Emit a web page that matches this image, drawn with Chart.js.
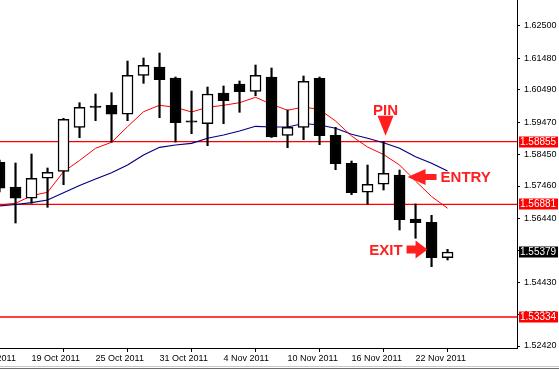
<!DOCTYPE html>
<html>
<head>
<meta charset="utf-8">
<script src="https://cdn.jsdelivr.net/npm/chart.js@4.4.0/dist/chart.umd.min.js"></script>
<style>
  html, body { margin: 0; padding: 0; background: #fff; }
  canvas { display: block; }
</style>
</head>
<body>
<canvas id="chart" width="559" height="370"></canvas>
<script>
// daily bars, 17 Oct 2011 .. 24 Nov 2011 (bar index 0 = 17 Oct)
const opens  = [1.58207, 1.57428, 1.57073, 1.57703, 1.57923, 1.59309, 1.59933, 1.60002, 1.59719, 1.60947,
                1.61208, 1.60862, 1.59467, 1.59422, 1.60389, 1.60673, 1.60443, 1.60893, 1.59057, 1.59309,
                1.60853, 1.59057, 1.58175, 1.57262, 1.57514, 1.57806, 1.56420, 1.56317, 1.55201];
const highs  = [1.58279, 1.58184, 1.58468, 1.58027, 1.59593, 1.60084, 1.60358, 1.60399, 1.61397, 1.61492,
                1.61649, 1.60893, 1.60452, 1.60578, 1.60610, 1.60767, 1.61271, 1.61177, 1.59854, 1.60925,
                1.60893, 1.59309, 1.58247, 1.58121, 1.58855, 1.57964, 1.56893, 1.56537, 1.55466];
const lows   = [1.57271, 1.56294, 1.56915, 1.56789, 1.57501, 1.58981, 1.59517, 1.58837, 1.59517, 1.60695,
                1.59611, 1.58846, 1.59107, 1.58729, 1.59422, 1.59782, 1.60304, 1.58988, 1.58666, 1.58918,
                1.58761, 1.57973, 1.57186, 1.56893, 1.57334, 1.56074, 1.55813, 1.54918, 1.55129];
const closes = [1.57388, 1.57073, 1.57703, 1.57892, 1.59561, 1.59939, 1.59964, 1.59719, 1.60947, 1.61262,
                1.60808, 1.59454, 1.59470, 1.60358, 1.60147, 1.60430, 1.60947, 1.59003, 1.59309, 1.60758,
                1.59044, 1.58162, 1.57249, 1.57514, 1.57860, 1.56398, 1.56304, 1.55201, 1.55379];

// moving averages
const maFast = [1.56861, 1.56915, 1.57154, 1.57262, 1.57910, 1.58263, 1.58648, 1.58837, 1.59328, 1.59800,
                1.60002, 1.59939, 1.59791, 1.59939, 1.60002, 1.60084, 1.60254, 1.60034, 1.59845, 1.59948,
                1.59870, 1.59507, 1.59035, 1.58688, 1.58452, 1.58121, 1.57617, 1.57129, 1.56758];
const maSlow = [1.56830, 1.56877, 1.56934, 1.57019, 1.57249, 1.57476, 1.57680, 1.57879, 1.58121, 1.58436,
                1.58679, 1.58751, 1.58805, 1.58963, 1.59066, 1.59192, 1.59341, 1.59318, 1.59318, 1.59429,
                1.59381, 1.59278, 1.59089, 1.58963, 1.58824, 1.58648, 1.58383, 1.58175, 1.57932];

// horizontal levels and last price
const levels = [1.58855, 1.56881, 1.53334];
const lastPrice = 1.55379;

// axis ticks
const priceTicks = [1.62500, 1.61480, 1.60490, 1.59470, 1.58450, 1.57460, 1.56440, 1.55430, 1.54430, 1.53420, 1.52420];
const dateTickBars = [-2, 2, 6, 10, 14, 18, 22, 26];
const dateTickLabels = ['13 Oct 2011', '19 Oct 2011', '25 Oct 2011', '31 Oct 2011', '4 Nov 2011',
                        '10 Nov 2011', '16 Nov 2011', '22 Nov 2011'];

// annotations: bar index + price they point at
const notes = [
    { text: 'PIN',   bar: 24, price: 1.58855, dir: 'down' },
    { text: 'ENTRY', bar: 25, price: 1.57744, dir: 'left' },
    { text: 'EXIT',  bar: 27, price: 1.55460, dir: 'right' }
];

const bars = opens.map((o, i) => i);
const RED = '#ff0000';
const NOTE_RED = '#ff1f1f';
const FONT = '"Liberation Sans", Arial, sans-serif';

const bodyData = bars.map(i => ({ x: i, y: [opens[i], closes[i]] }));
const wickData = bars.map(i => ({ x: i, y: [lows[i], highs[i]] }));
// doji bodies (open ~ close) show as a plain black dash
const bodyColors = bars.map(i => {
    if (Math.abs(closes[i] - opens[i]) < 0.0004) return '#000000';
    return closes[i] > opens[i] ? '#ffffff' : '#000000';
});

const xMin = 0.03, xMax = 32.34;

const levelSets = levels.map(lv => ({
    type: 'line',
    data: [{ x: xMin, y: lv }, { x: xMax, y: lv }],
    borderColor: RED,
    borderWidth: 1.3,
    pointRadius: 0,
    order: 3
}));

// arrows, texts and right-side price boxes
const overlay = {
    id: 'overlay',
    afterDatasetsDraw(chart) {
        const ctx = chart.ctx;
        const xs = chart.scales.x, ys = chart.scales.y;
        ctx.save();
        ctx.fillStyle = NOTE_RED;
        ctx.font = 'bold 15px ' + FONT;
        notes.forEach(n => {
            const px = xs.getPixelForValue(n.bar);
            const py = ys.getPixelForValue(n.price);
            ctx.beginPath();
            if (n.dir === 'down') {
                const tx = px + 2, ty = py - 6;
                ctx.moveTo(tx, ty);
                ctx.lineTo(tx - 8, ty - 20);
                ctx.lineTo(tx + 8, ty - 20);
                ctx.closePath();
                ctx.fill();
                ctx.textAlign = 'center';
                ctx.textBaseline = 'alphabetic';
                ctx.fillText(n.text, tx, ty - 21);
            } else if (n.dir === 'left') {
                const tx = px + 8, ty = py;
                ctx.moveTo(tx, ty);
                ctx.lineTo(tx + 18, ty - 8);
                ctx.lineTo(tx + 18, ty - 3);
                ctx.lineTo(tx + 29, ty - 3);
                ctx.lineTo(tx + 29, ty + 3);
                ctx.lineTo(tx + 18, ty + 3);
                ctx.lineTo(tx + 18, ty + 8);
                ctx.closePath();
                ctx.fill();
                ctx.textAlign = 'left';
                ctx.textBaseline = 'middle';
                ctx.fillText(n.text, tx + 33, ty + 1);
            } else {
                const tx = px - 4, ty = py;
                ctx.moveTo(tx, ty);
                ctx.lineTo(tx - 12, ty - 9);
                ctx.lineTo(tx - 12, ty - 4);
                ctx.lineTo(tx - 21, ty - 4);
                ctx.lineTo(tx - 21, ty + 4);
                ctx.lineTo(tx - 12, ty + 4);
                ctx.lineTo(tx - 12, ty + 9);
                ctx.closePath();
                ctx.fill();
                ctx.textAlign = 'right';
                ctx.textBaseline = 'middle';
                ctx.fillText(n.text, tx - 25, ty + 1);
            }
        });
        ctx.restore();
    },
    afterDraw(chart) {
        const ctx = chart.ctx;
        const ys = chart.scales.y;
        const left = chart.chartArea.right + 2;
        ctx.save();
        ctx.font = '10px ' + FONT;
        ctx.textAlign = 'left';
        ctx.textBaseline = 'middle';
        const box = (v, bg) => {
            const py = Math.round(ys.getPixelForValue(v));
            ctx.fillStyle = bg;
            ctx.fillRect(left, py - 5.5, chart.width - left - 1, 11);
            ctx.fillStyle = '#ffffff';
            ctx.fillText(v.toFixed(5), left + 1, py + 0.5);
        };
        levels.forEach(v => box(v, RED));
        box(lastPrice, '#000000');
        // window strip at the bottom
        ctx.fillStyle = '#c8c8c8';
        ctx.fillRect(0, 366, chart.width, 1);
        ctx.fillStyle = '#707070';
        ctx.fillRect(0, 368, chart.width, 1);
        ctx.restore();
    }
};

new Chart(document.getElementById('chart'), {
    type: 'bar',
    data: {
        datasets: [
            {
                data: bodyData,
                backgroundColor: bodyColors,
                borderColor: '#000000',
                borderWidth: 1.5,
                borderSkipped: false,
                barThickness: 11,
                minBarLength: 1.5,
                grouped: false,
                order: 0
            },
            {
                data: wickData,
                backgroundColor: '#000000',
                borderWidth: 0,
                barThickness: 1.5,
                grouped: false,
                order: 1
            },
            {
                type: 'line',
                data: bars.map(i => ({ x: i, y: maFast[i] })),
                borderColor: RED,
                borderWidth: 1,
                pointRadius: 0,
                order: 2
            },
            {
                type: 'line',
                data: bars.map(i => ({ x: i, y: maSlow[i] })),
                borderColor: '#000080',
                borderWidth: 1.2,
                pointRadius: 0,
                order: 2
            },
            ...levelSets
        ]
    },
    options: {
        responsive: false,
        animation: false,
        devicePixelRatio: 1,
        layout: { padding: 0 },
        plugins: { legend: { display: false }, tooltip: { enabled: false } },
        scales: {
            x: {
                type: 'linear',
                min: xMin,
                max: xMax,
                offset: false,
                grid: { display: true, drawOnChartArea: false, drawTicks: true, tickLength: 4, color: '#000000' },
                border: { display: true, color: '#000000', width: 1 },
                afterBuildTicks: scale => { scale.ticks = dateTickBars.map(v => ({ value: v })); },
                afterFit: scale => {
                    scale.height = 22;
                    scale.paddingLeft = 0;
                    scale.paddingRight = 0;
                },
                ticks: {
                    autoSkip: false,
                    maxRotation: 0,
                    align: 'start',
                    padding: 1,
                    color: '#000000',
                    font: { family: FONT, size: 9 },
                    callback: (v) => dateTickLabels[dateTickBars.indexOf(v)]
                }
            },
            y: {
                position: 'right',
                min: 1.52357,
                max: 1.63319,
                grid: { display: true, drawOnChartArea: false, drawTicks: true, tickLength: 3, color: '#000000' },
                border: { display: true, color: '#000000', width: 1 },
                afterBuildTicks: scale => { scale.ticks = priceTicks.map(v => ({ value: v })); },
                afterFit: scale => {
                    scale.width = 42;
                    scale.paddingTop = 0;
                    scale.paddingBottom = 0;
                },
                ticks: {
                    padding: 4,
                    color: '#000000',
                    font: { family: FONT, size: 9 },
                    callback: v => Number(v).toFixed(5)
                }
            }
        }
    },
    plugins: [overlay]
});
</script>
</body>
</html>
